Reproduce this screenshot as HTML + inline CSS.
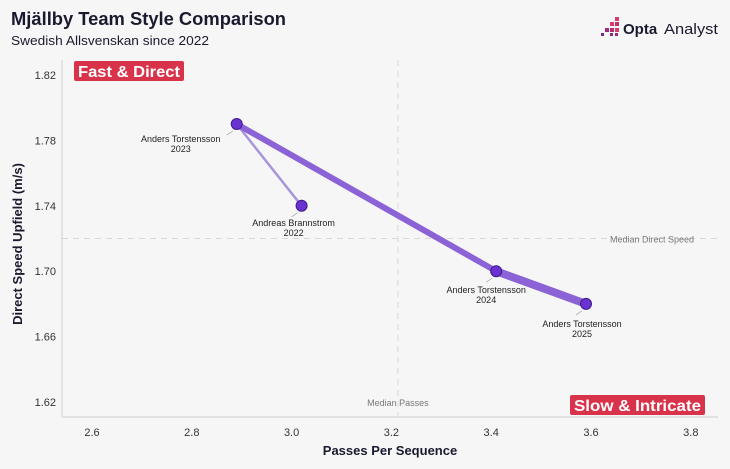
<!DOCTYPE html>
<html><head><meta charset="utf-8"><style>
body{margin:0;background:#f6f6f7;font-family:"Liberation Sans",sans-serif;}
#wrap{position:relative;width:730px;height:469px;overflow:hidden;background:#f6f6f7}
</style></head><body>
<div id="wrap">
<svg id="chart" width="730" height="469">
<text x="11" y="25" font-size="18" font-weight="bold" fill="#1a1a2e" textLength="275" lengthAdjust="spacingAndGlyphs">Mjällby Team Style Comparison</text>
<text x="11" y="45" font-size="13" fill="#1a1a2e" textLength="198" lengthAdjust="spacingAndGlyphs">Swedish Allsvenskan since 2022</text>
<g>
<rect x="615" y="17" width="4" height="4" fill="#d63c6b"/><rect x="610" y="22" width="4" height="4" fill="#d63c6b"/><rect x="615" y="22" width="4" height="4" fill="#c0306a"/><rect x="605" y="28" width="4" height="4" fill="#a02a7a"/><rect x="610" y="28" width="4" height="4" fill="#b02f70"/><rect x="615" y="28" width="4" height="4" fill="#d63c6b"/><rect x="601" y="33" width="3" height="3" fill="#7a2a8a"/><rect x="610" y="33" width="3" height="3" fill="#8a2a80"/><rect x="615" y="33" width="3" height="3" fill="#9a2a7a"/>
<text x="623" y="34" font-size="15" font-weight="bold" fill="#1a1a2e">Opta</text><text x="664" y="34" font-size="15" fill="#1a1a2e" textLength="54" lengthAdjust="spacingAndGlyphs">Analyst</text>
</g>
<g id="axes"></g><g id="marks"></g>
</svg>
</div>
<script>
const labels=["Andreas Brannstrom","Anders Torstensson","Anders Torstensson","Anders Torstensson"];
const seasons=["2022","2023","2024","2025"];
const passes=[3.02,2.89,3.41,3.59];
const speed=[1.74,1.79,1.70,1.68];
const xTicks=[2.6,2.8,3.0,3.2,3.4,3.6,3.8];
const yTicks=[1.62,1.66,1.70,1.74,1.78,1.82];
const medianPasses=3.213;
const medianSpeed=1.72;
const X=v=>92+(v-2.6)*499;
const Y=v=>75+(1.82-v)*1635;
const NS="http://www.w3.org/2000/svg";
const ax=document.getElementById('axes'),mk=document.getElementById('marks');
function mkEl(t,a,p){const e=document.createElementNS(NS,t);for(const k in a)e.setAttribute(k,a[k]);p.appendChild(e);return e;}
let e;
e=mkEl('line',{x1:62,y1:60,x2:62,y2:417,stroke:'#e2e2e4','stroke-width':2},ax);

e=mkEl('line',{x1:62,y1:417,x2:718,y2:417,stroke:'#e2e2e4','stroke-width':2},ax);

xTicks.forEach(v=>{e=mkEl('text',{x:X(v),y:436,'text-anchor':'middle','font-size':11,fill:'#333'},ax);e.textContent=v.toFixed(1);
});
yTicks.forEach(v=>{e=mkEl('text',{x:56,y:Y(v)+4,'text-anchor':'end','font-size':11,fill:'#333'},ax);e.textContent=v.toFixed(2);
});
e=mkEl('line',{x1:X(medianPasses),y1:60,x2:X(medianPasses),y2:417,stroke:'#d8d8da','stroke-width':1,'stroke-dasharray':'6,5'},ax);

e=mkEl('line',{x1:62,y1:Y(medianSpeed),x2:718,y2:Y(medianSpeed),stroke:'#d8d8da','stroke-width':1,'stroke-dasharray':'6,5'},ax);

e=mkEl('text',{x:X(medianPasses),y:406,'text-anchor':'middle','font-size':9,fill:'#777'},ax);e.textContent='Median Passes';

e=mkEl('text',{x:694,y:Y(medianSpeed)+4,'text-anchor':'end','font-size':9,fill:'#777'},ax);e.textContent='Median Direct Speed';

e=mkEl('text',{x:390,y:455,'text-anchor':'middle','font-size':13,'font-weight':'bold',fill:'#1a1a2e'},ax);e.textContent='Passes Per Sequence';

e=mkEl('text',{x:0,y:0,'text-anchor':'middle','font-size':13,'font-weight':'bold',fill:'#1a1a2e',transform:'translate(22,244) rotate(-90)'},ax);e.textContent='Direct Speed Upfield (m/s)';

e=mkEl('rect',{x:74,y:61,width:110,height:20,rx:2,fill:'#d8334a'},ax);

e=mkEl('text',{x:78,y:77,'font-size':16,'font-weight':'bold',fill:'#fff',textLength:102,lengthAdjust:'spacingAndGlyphs'},ax);e.textContent='Fast & Direct';

e=mkEl('rect',{x:570,y:395,width:135,height:20,rx:2,fill:'#d8334a'},ax);

e=mkEl('text',{x:574,y:411,'font-size':16,'font-weight':'bold',fill:'#fff',textLength:127,lengthAdjust:'spacingAndGlyphs'},ax);e.textContent='Slow & Intricate';

const widths=[2.5,6,8];
for(let i=0;i<passes.length-1;i++){
 e=mkEl('line',{x1:X(passes[i]),y1:Y(speed[i]),x2:X(passes[i+1]),y2:Y(speed[i+1]),stroke:i==0?'#a995db':'#8b63d6','stroke-width':widths[i],'stroke-linecap':'round'},mk);
 
}
const lblOff=[[-8,20],[-56,18],[-10,22],[-4,23]];
for(let i=0;i<passes.length;i++){
 const cx=X(passes[i]),cy=Y(speed[i]);
 const lx=cx+lblOff[i][0],ly=cy+lblOff[i][1];
 e=mkEl('line',{x1:cx-4,y1:cy+7,x2:cx-10,y2:cy+11,stroke:'#aaa','stroke-width':0.8},mk);
 
 e=mkEl('circle',{cx:cx,cy:cy,r:5.5,fill:'#6a33d1',stroke:'#3d1a8a','stroke-width':1},mk);
 
 e=mkEl('text',{x:lx,y:ly,'text-anchor':'middle','font-size':9,fill:'#222'},mk);e.textContent=labels[i];
 
 e=mkEl('text',{x:lx,y:ly+10,'text-anchor':'middle','font-size':9,fill:'#222'},mk);e.textContent=seasons[i];
 
}
</script>
</body></html>
